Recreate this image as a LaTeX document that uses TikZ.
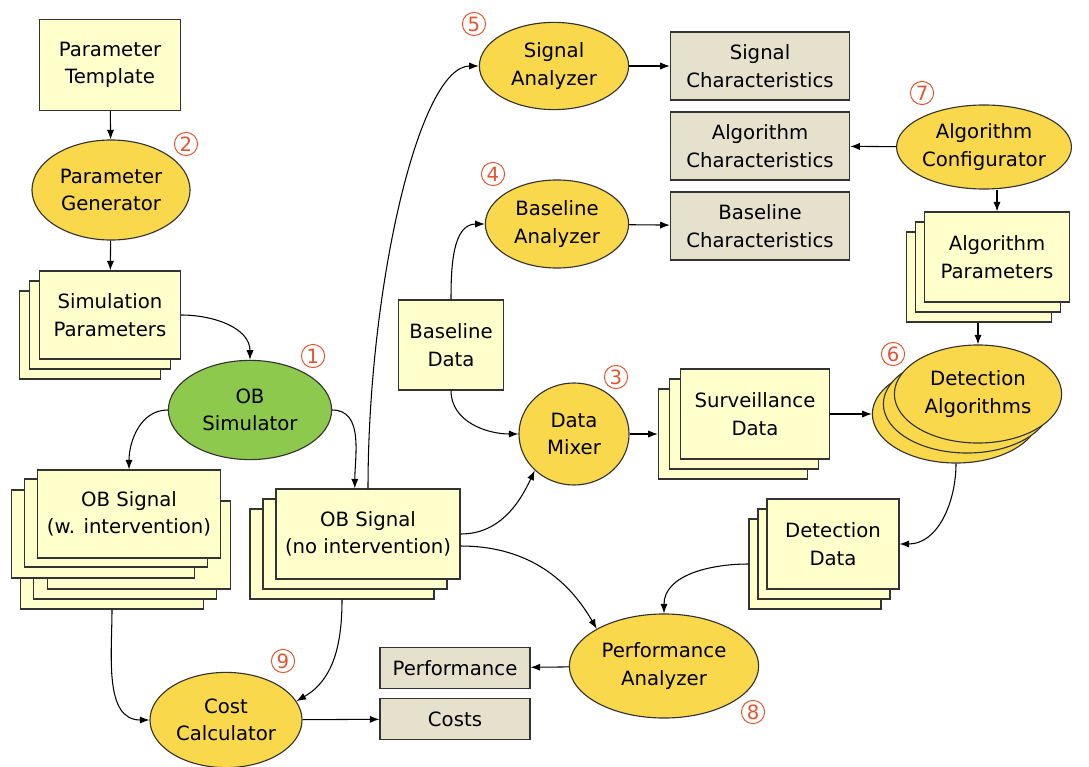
\documentclass[tikz,border=0pt]{standalone}
\usepackage{fontspec}
\setmainfont{DejaVu Sans}
\usetikzlibrary{shapes.geometric,arrows.meta}
\definecolor{paleyellow}{HTML}{FFFFCC}
\definecolor{gold}{HTML}{F9D84C}
\definecolor{simgreen}{HTML}{8DC94D}
\definecolor{khaki}{HTML}{E6E1CD}
\definecolor{stepred}{HTML}{E05530}
\tikzset{
	datbox/.style={draw=black!80, line width=0.8pt, fill=paleyellow, align=center, inner sep=0pt},
	procell/.style={ellipse, draw=black!80, line width=0.8pt, fill=gold, align=center, inner sep=0pt},
	outbox/.style={draw=black!80, line width=0.8pt, fill=khaki, align=center, inner sep=0pt},
	stepnum/.style={circle, draw=stepred, text=stepred, line width=0.7pt, minimum size=0.58cm, inner sep=0pt, font=\fontsize{14}{14}\selectfont},
	flow/.style={line width=0.75pt, -{Latex[length=2.4mm,width=1.8mm]}},
}

\begin{document}
\begin{tikzpicture}[x=0.025cm, y=-0.025cm, font=\fontsize{14}{19.5}\selectfont]
		%%%%% START %%%%%
		\useasboundingbox (0, 0) rectangle (1089, 767);
		
		\node[datbox, minimum width=3.53cm, minimum height=2.28cm] (tmpl) at (110, 65) {Parameter\\Template};
		\node[procell, minimum width=3.95cm, minimum height=2.5cm] (pgen) at (111, 190) {Parameter\\Generator};
		
		\foreach \k in {2,1}
			\node[datbox, minimum width=3.53cm, minimum height=2.2cm] (simp\k) at (110-10*\k, 315+10*\k) {};
		\node[datbox, minimum width=3.53cm, minimum height=2.2cm] (simp) at (110, 315) {Simulation\\Parameters};
		
		\node[procell, fill=simgreen, minimum width=4.08cm, minimum height=2.48cm] (obsim) at (250, 410) {OB\\Simulator};
		
		% signal with intervention: two stacks
		\foreach \px/\py [count=\i] in {112/565, 125/555, 139/545, 103/534, 116/523}
			\node[datbox, minimum width=4.58cm, minimum height=2.2cm] (obw\i) at (\px, \py) {};
		\node[datbox, minimum width=4.58cm, minimum height=2.2cm] (obw) at (129, 514) {OB Signal\\(w. intervention)};
		
		\foreach \k in {2,1}
			\node[datbox, minimum width=4.6cm, minimum height=2.25cm] (obn\k) at (368-13*\k, 534+10*\k) {};
		\node[datbox, minimum width=4.6cm, minimum height=2.25cm] (obn) at (368, 534) {OB Signal\\(no intervention)};
		
		\node[datbox, minimum width=2.63cm, minimum height=2.25cm] (bdat) at (451, 345) {Baseline\\Data};
		\node[procell, minimum width=2.75cm, minimum height=2.55cm] (mix) at (574, 434) {Data\\Mixer};
		
		\node[procell, minimum width=3.73cm, minimum height=2.18cm] (sana) at (554, 66) {Signal\\Analyzer};
		\node[procell, minimum width=3.58cm, minimum height=2.2cm] (bana) at (557, 224) {Baseline\\Analyzer};
		
		\node[outbox, minimum width=4.48cm, minimum height=1.7cm] (schar) at (760, 66) {Signal\\Characteristics};
		\node[outbox, minimum width=4.48cm, minimum height=1.7cm] (achar) at (760, 146) {Algorithm\\Characteristics};
		\node[outbox, minimum width=4.48cm, minimum height=1.7cm] (bchar) at (760, 226) {Baseline\\Characteristics};
		
		\node[procell, minimum width=3.95cm, minimum height=2.1cm] (conf) at (984, 147) {Algorithm\\Configurator};
		
		\foreach \k in {2,1}
			\node[datbox, minimum width=3.63cm, minimum height=2.25cm] (apar\k) at (997-9*\k, 257+10*\k) {};
		\node[datbox, minimum width=3.63cm, minimum height=2.25cm] (apar) at (997, 257) {Algorithm\\Parameters};
		
		\foreach \k in {2,1}
			\node[procell, minimum width=4.18cm, minimum height=2.45cm] (dalg\k) at (978-11*\k, 394+10*\k) {};
		\node[procell, minimum width=4.18cm, minimum height=2.45cm] (dalg) at (978, 394) {Detection\\Algorithms};
		
		\foreach \k in {2,1}
			\node[datbox, minimum width=3.73cm, minimum height=2.25cm] (surv\k) at (755-11*\k, 414+10*\k) {};
		\node[datbox, minimum width=3.73cm, minimum height=2.25cm] (surv) at (755, 414) {Surveillance\\Data};
		
		\foreach \k in {2,1}
			\node[datbox, minimum width=3.3cm, minimum height=2.25cm] (ddat\k) at (833-9*\k, 544+10*\k) {};
		\node[datbox, minimum width=3.3cm, minimum height=2.25cm] (ddat) at (833, 544) {Detection\\Data};
		
		\node[procell, minimum width=4.73cm, minimum height=2.6cm] (perf) at (664, 666) {Performance\\Analyzer};
		\node[outbox, minimum width=3.75cm, minimum height=1.03cm] (pbox) at (455, 668) {Performance};
		\node[outbox, minimum width=3.75cm, minimum height=1.03cm] (cbox) at (455, 719) {Costs};
		\node[procell, minimum width=3.8cm, minimum height=2.38cm] (cost) at (226, 720) {Cost\\Calculator};
		
		% step numbers
		\node[stepnum] (n1) at (313, 356) {1};
		\node[stepnum] (n2) at (186, 144) {2};
		\node[stepnum] (n3) at (616, 377) {3};
		\node[stepnum] (n4) at (493, 174) {4};
		\node[stepnum] (n5) at (474, 24) {5};
		\node[stepnum] (n6) at (893, 354) {6};
		\node[stepnum] (n7) at (922, 93) {7};
		\node[stepnum] (n8) at (753, 712) {8};
		\node[stepnum] (n9) at (283, 661) {9};
		
		% connectors
		\draw[flow] (tmpl) -- (pgen);
		\draw[flow] (pgen) -- (simp);
		\draw[flow] (simp.east) to[out=0, in=90] (obsim.north);
		\draw[flow] (obsim.west) to[out=180, in=90] (obw.north);
		\draw[flow] (obsim.east) to[out=0, in=90] ([xshift=-0.33cm]obn.north);
		\draw[flow] (obn.north) .. controls +(0, -200) and +(-60, 0) .. (sana.west);
		\draw[flow] (bdat.north) to[out=90, in=180] (bana.west);
		\draw[flow] (bdat.south) to[out=-90, in=180] (mix.west);
		\draw[flow] (obn.east) to[out=0, in=-115] (mix.south west);
		\draw[flow] ([yshift=-0.3cm]obn.east) to[out=0, in=120] (perf.north west);
		\draw[flow] (sana) -- (schar);
		\draw[flow] (bana) -- (bchar);
		\draw[flow] (conf) -- (achar);
		\draw[flow] (apar.north |- conf.south) -- (apar.north);
		\draw[flow] (dalg.north |- apar2.south) -- (dalg.north);
		\draw[flow] (mix.east) -- (surv2.west);
		\draw[flow] (surv.east) -- (dalg2.west |- surv.east);
		\draw[flow] (dalg2.south) to[out=-90, in=0] (ddat.east);
		\draw[flow] (ddat2.west) to[out=180, in=90] (perf.north);
		\draw[flow] (perf) -- (pbox);
		\draw[flow] (cost) -- (cbox);
		\draw[flow] (obw1.south) to[out=-90, in=180] (cost.west);
		\draw[flow] (obn2.south) to[out=-90, in=30] (cost.15);
		
		%%%%% END %%%%%
\end{tikzpicture}
\end{document}
